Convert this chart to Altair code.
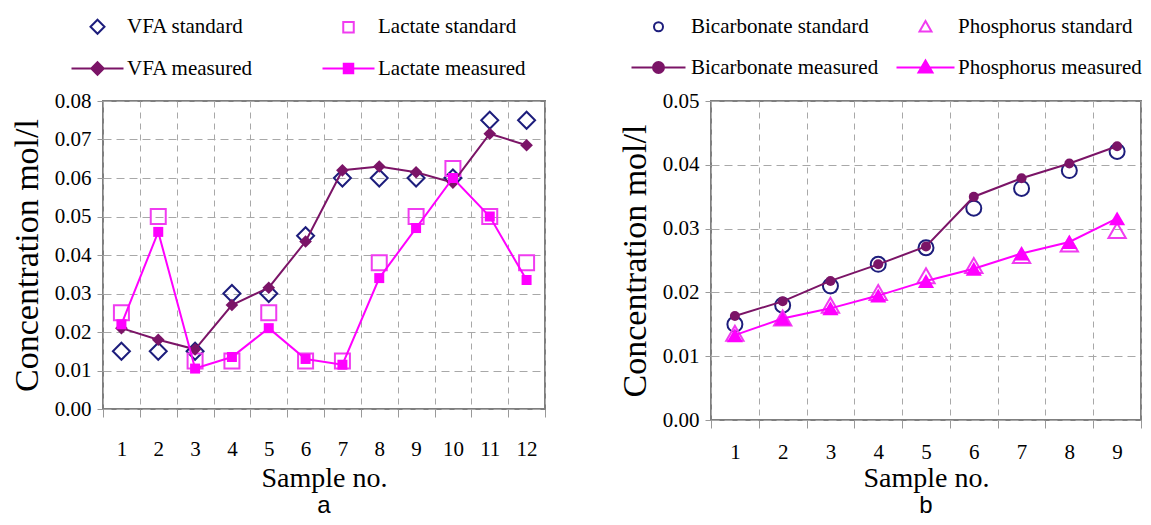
import altair as alt
import pandas as pd

# ---------------- data: panel a ----------------
samples_a = [1, 2, 3, 4, 5, 6, 7, 8, 9, 10, 11, 12]
vfa_standard = [0.015, 0.015, 0.015, 0.030, 0.030, 0.045, 0.060, 0.060, 0.060, 0.060, 0.075, 0.075]
vfa_measured = [0.021, 0.018, 0.0155, 0.027, 0.0315, 0.0435, 0.062, 0.063, 0.0615, 0.0588, 0.0715, 0.0685]
lactate_standard = [0.025, 0.050, 0.0125, 0.0125, 0.025, 0.0125, 0.0125, 0.038, 0.050, 0.0625, 0.050, 0.038]
lactate_measured = [0.022, 0.046, 0.0105, 0.0135, 0.021, 0.013, 0.0115, 0.034, 0.047, 0.060, 0.050, 0.0335]
series_a = ["VFA standard", "VFA measured", "Lactate standard", "Lactate measured"]

# ---------------- data: panel b ----------------
samples_b = [1, 2, 3, 4, 5, 6, 7, 8, 9]
bicarb_standard = [0.015, 0.018, 0.021, 0.0244, 0.027, 0.0332, 0.0363, 0.0391, 0.0421]
bicarb_measured = [0.0163, 0.0186, 0.0218, 0.0244, 0.0272, 0.035, 0.0379, 0.0402, 0.0429]
phos_standard = [0.0136, 0.016, 0.018, 0.020, 0.0226, 0.0242, 0.0258, 0.0276, 0.0297]
phos_measured = [0.0133, 0.0159, 0.0175, 0.0195, 0.0218, 0.0237, 0.0261, 0.0279, 0.0316]
series_b = ["Bicarbonate standard", "Bicarbonate measured", "Phosphorus standard", "Phosphorus measured"]

# axis tick values
yticks_a = [0.0, 0.01, 0.02, 0.03, 0.04, 0.05, 0.06, 0.07, 0.08]
yticks_b = [0.0, 0.01, 0.02, 0.03, 0.04, 0.05]
xticks_a = [0.5, 1, 1.5, 2, 2.5, 3, 3.5, 4, 4.5, 5, 5.5, 6, 6.5, 7, 7.5, 8, 8.5, 9, 9.5, 10, 10.5, 11, 11.5, 12, 12.5]
xticks_b = [0.5, 1, 1.5, 2, 2.5, 3, 3.5, 4, 4.5, 5, 5.5, 6, 6.5, 7, 7.5, 8, 8.5, 9, 9.5]

SERIF = "Liberation Serif"
NAVY = "#1d1d7c"
PURPLE = "#7b1467"
MAGENTA = "#ff00ff"
MAGENTA_STD = "#f03cf0"
GRID = "#a8a8a8"
TICK = "#999999"


def long_df(samples, names, arrays):
    rows = []
    for name, arr in zip(names, arrays):
        for s, v in zip(samples, arr):
            rows.append({"sample": s, "value": v, "series": name})
    return pd.DataFrame(rows)


df_a = long_df(samples_a, ["VFA standard", "VFA measured", "Lactate standard", "Lactate measured"],
               [vfa_standard, vfa_measured, lactate_standard, lactate_measured])
df_b = long_df(samples_b, ["Bicarbonate standard", "Bicarbonate measured", "Phosphorus standard", "Phosphorus measured"],
               [bicarb_standard, bicarb_measured, phos_standard, phos_measured])

HALF = "datum.value % 1 === 0"


def x_enc(n, ticks, label_pad, title_pad):
    return alt.X(
        "sample:Q",
        scale=alt.Scale(domain=[0.5, n + 0.5], nice=False, zero=False),
        axis=alt.Axis(
            values=ticks,
            labelExpr="datum.value % 1 === 0 ? '' + datum.value : ''",
            grid=True, gridDash=[6, 5], gridColor=GRID, gridWidth=1,
            gridOpacity={"condition": {"test": HALF, "value": 0}, "value": 1},
            ticks=True, tickColor=TICK, tickSize=8, tickWidth=1,
            tickOpacity={"condition": {"test": HALF, "value": 0}, "value": 1},
            domain=False,
            labelFont=SERIF, labelFontSize=21, labelColor="black",
            labelPadding=label_pad, labelOverlap=False, labelFlush=False,
            title="Sample no.", titleFont=SERIF, titleFontSize=28,
            titleFontWeight="normal", titleColor="black", titlePadding=title_pad,
        ),
    )


def y_enc(maxv, ticks):
    return alt.Y(
        "value:Q",
        scale=alt.Scale(domain=[0, maxv], nice=False, zero=True),
        axis=alt.Axis(
            values=ticks, format=".2f",
            grid=True, gridDash=[8, 5], gridColor=GRID, gridWidth=1,
            domain=False, tickColor=TICK, tickSize=6,
            labelFont=SERIF, labelFontSize=21, labelColor="black", labelPadding=6,
            title="Concentration mol/l", titleFont=SERIF, titleFontSize=34,
            titleFontWeight="normal", titleColor="black", titlePadding=10,
        ),
    )


def panel(df, order, strokes, fills, paths, std_specs, meas_specs, n, xticks, maxv, yticks,
          width, height, legend_kw, title, label_pad, xtitle_pad, title_offset):
    base = alt.Chart(df)
    X = x_enc(n, xticks, label_pad, xtitle_pad)
    Y = y_enc(maxv, yticks)
    leg = alt.Legend(**legend_kw)
    legend_layer = base.transform_filter("datum.sample < 0").mark_point(opacity=1, filled=False).encode(
        x=X, y=Y,
        shape=alt.Shape("series:N", scale=alt.Scale(domain=order, range=paths), legend=leg),
        color=alt.Color("series:N", scale=alt.Scale(domain=order, range=strokes), legend=leg),
        fill=alt.Fill("series:N", scale=alt.Scale(domain=order, range=fills), legend=leg),
    )
    layers = [legend_layer]
    for name, shape, size, color in std_specs:
        layers.append(
            base.transform_filter(alt.datum.series == name)
            .mark_point(shape=shape, size=size, filled=False, strokeWidth=2, color=color, opacity=1)
            .encode(x=X, y=Y)
        )
    for name, shape, size, color in meas_specs:
        sub = base.transform_filter(alt.datum.series == name)
        layers.append(sub.mark_line(color=color, strokeWidth=2).encode(x=X, y=Y))
        layers.append(
            sub.mark_point(shape=shape, size=size, filled=True, color=color, opacity=1).encode(x=X, y=Y)
        )
    return alt.layer(*layers).properties(
        width=width, height=height,
        title=alt.TitleParams(title, orient="bottom", anchor="middle", frame="group",
                              font="Liberation Sans", fontSize=24, fontWeight="normal",
                              color="black", offset=title_offset),
    )


def legend_params(lx, ly, colpad, laboff):
    return dict(orient="none", legendX=lx, legendY=ly, columns=2, title=None,
                labelFont=SERIF, labelFontSize=21, labelColor="black", labelLimit=400,
                symbolSize=100, symbolStrokeWidth=2, columnPadding=colpad, rowPadding=19,
                labelOffset=laboff)


paths_a = [
    "M0,-1.4L1.4,0L0,1.4L-1.4,0Z",
    "M-5.2,0L5.2,0M0,-1.25L1.25,0L0,1.25L-1.25,0Z",
    "M-1.05,-1.05L1.05,-1.05L1.05,1.05L-1.05,1.05Z",
    "M-5.2,0L5.2,0M-0.95,-0.95L0.95,-0.95L0.95,0.95L-0.95,0.95Z",
]
paths_b = [
    "M-0.9,0A0.9 0.9 0 1 0 0.9,0A0.9 0.9 0 1 0 -0.9,0Z",
    "M-5.4,0L5.4,0M-1.1,0A1.1 1.1 0 1 0 1.1,0A1.1 1.1 0 1 0 -1.1,0Z",
    "M0,-1.15L1.2,0.95L-1.2,0.95Z",
    "M-5.8,0L5.8,0M0,-1.4L1.4,1.0L-1.4,1.0Z",
]

left = panel(
    df_a, series_a,
    [NAVY, PURPLE, MAGENTA_STD, MAGENTA],
    ["white", PURPLE, "white", MAGENTA],
    paths_a,
    [("VFA standard", "diamond", 289, NAVY), ("Lactate standard", "square", 225, MAGENTA_STD)],
    [("VFA measured", "diamond", 160, PURPLE), ("Lactate measured", "square", 100, MAGENTA)],
    12, xticks_a, 0.08, yticks_a, 442, 308,
    legend_params(-16, -85, 64, 19), "a", 21, 5, 2,
)

right = panel(
    df_b, series_b,
    [NAVY, PURPLE, MAGENTA_STD, MAGENTA],
    ["white", PURPLE, "white", MAGENTA],
    paths_b,
    [("Bicarbonate standard", "circle", 225, NAVY), ("Phosphorus standard", "triangle-up", 300, MAGENTA_STD)],
    [("Bicarbonate measured", "circle", 100, PURPLE), ("Phosphorus measured", "triangle-up", 260, MAGENTA)],
    9, xticks_b, 0.05, yticks_b, 430, 319,
    legend_params(-63, -85, 13, 22), "b", 13, 2, 2,
)

chart = (
    alt.hconcat(left, right, spacing=70)
    .resolve_scale(color="independent", shape="independent", fill="independent")
    .resolve_legend(color="independent", shape="independent", fill="independent")
    .properties(padding={"left": 1, "top": 7, "right": 0, "bottom": 0})
    .configure(font=SERIF)
    .configure_view(stroke="#7f7f7f", strokeWidth=2)
)

chart.save("out.html", embed_options={"renderer": "svg", "actions": False})
